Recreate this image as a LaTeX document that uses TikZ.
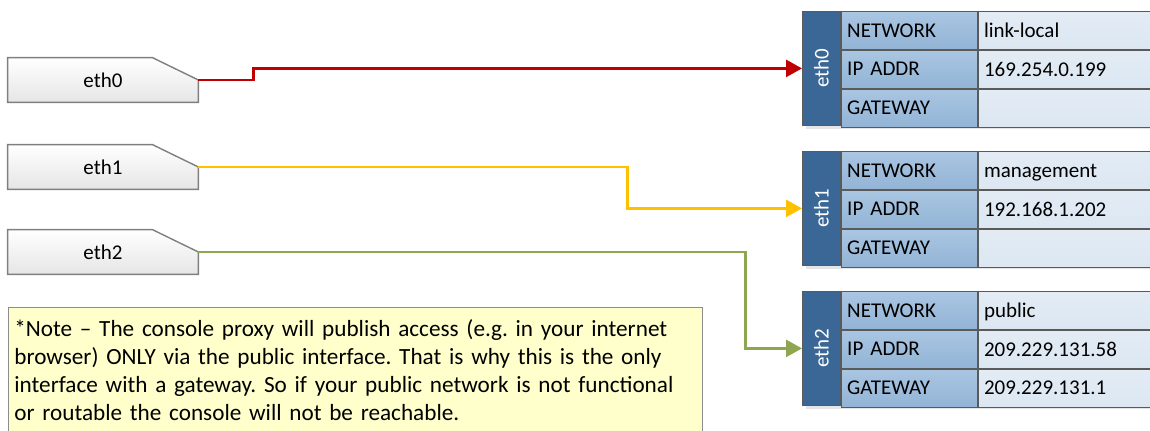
\documentclass[tikz,border=0pt]{standalone}
\usepackage{fontspec}
\setmainfont{Carlito}
\usepackage{graphicx}
\usetikzlibrary{positioning, arrows.meta, backgrounds}

\definecolor{tabline}{HTML}{7F7F7F}
\definecolor{stripblue}{HTML}{3A6795}
\definecolor{keytop}{HTML}{A9C6E2}
\definecolor{keybottom}{HTML}{93B4D6}
\definecolor{valblue}{HTML}{DCE7F2}
\definecolor{cellline}{HTML}{5A5A5A}
\definecolor{notefill}{HTML}{FFFFCC}
\definecolor{noteline}{HTML}{8C8C8C}
\definecolor{wirered}{HTML}{C00000}
\definecolor{wireamber}{HTML}{FFC000}
\definecolor{wireolive}{HTML}{8EA64F}

\frenchspacing
\begin{document}
\begin{tikzpicture}[x=0.5pt, y=-0.5pt, font=\fontsize{10.5}{12.6}\selectfont,
    tab/.style={minimum width=95pt, minimum height=22pt, inner sep=0pt},
    strip/.style={draw=cellline, fill=stripblue, text=white, minimum width=19pt,
        minimum height=57pt, inner sep=0pt, anchor=north west},
    cell/.style={draw=cellline, minimum height=19pt, inner xsep=3pt, inner ysep=0pt,
        text depth=0pt, align=left},
    key/.style={cell, top color=keytop, bottom color=keybottom, minimum width=68pt,
        text width=62pt},
    val/.style={cell, top color=valblue!80!white, bottom color=valblue, minimum width=86pt,
        text width=80pt},
    note/.style={draw=noteline, fill=notefill, minimum height=63pt, inner xsep=3pt,
        text width=341pt, align=left, font=\fontsize{11.6}{14}\selectfont},
    wire/.style={line width=1.3pt, -{Triangle[length=8pt, width=8.5pt]}}]
    \useasboundingbox (0, 0) rectangle (1150, 430);

    \foreach \i/\ty in {0/80, 1/167, 2/252} {
        \node [tab] (tab\i) at (103, \ty) {eth\i};
        \begin{scope}[on background layer]
            \fill [black!12, xshift=1.5pt, yshift=-1.5pt] (tab\i.north west)
                -- ([xshift=-23pt] tab\i.north east) -- (tab\i.east)
                -- (tab\i.south east) -- (tab\i.south west) -- cycle;
            \draw [tabline, line width=0.7pt, top color=white, bottom color=black!10]
                (tab\i.north west) -- ([xshift=-23pt] tab\i.north east) -- (tab\i.east)
                -- (tab\i.south east) -- (tab\i.south west) -- cycle;
        \end{scope}
        }

    \foreach \i/\y/\net/\ip/\gw in {0/11/link-local/169.254.0.199/{},
        1/151/management/192.168.1.202/{}, 2/291/public/209.229.131.58/209.229.131.1} {
        \fill [black!10] (806, \y+4) rectangle (1151, \y+118);
        \node [strip] (s\i) at (802, \y) {\rotatebox{90}{eth\i}};
        \node [key, anchor=north west] (k\i-1) at (s\i.north east) {NETWORK};
        \node [key, below=0pt of k\i-1] (k\i-2) {IP ADDR};
        \node [key, below=0pt of k\i-2] (k\i-3) {GATEWAY};
        \node [val, right=0pt of k\i-1] (v\i-1) {\net};
        \node [val, right=0pt of k\i-2] (v\i-2) {\ip};
        \node [val, right=0pt of k\i-3] (v\i-3) {\gw};
        }

    \draw [wire, wirered]   (tab0.east) -- ++(55, 0)  |- (s0.west);
    \draw [wire, wireamber] (tab1.east) -- ++(429, 0) |- (s1.west);
    \draw [wire, wireolive] (tab2.east) -- ++(547, 0) |- (s2.west);

    \node [note, anchor=north west] (note) at (8, 307)
        {*Note -- The console proxy will publish access (e.g. in your internet\\
        browser) ONLY via the public interface. That is why this is the only\\
        interface with a gateway. So if your public network is not functional\\
        or routable the console will not be reachable.};
\end{tikzpicture}
\end{document}
